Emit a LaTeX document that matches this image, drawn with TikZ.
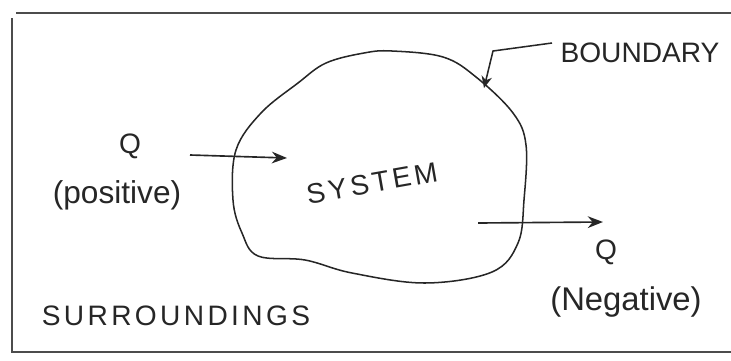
\documentclass[tikz,border=0pt]{standalone}
\usepackage{fontspec}
\setmainfont{Liberation Sans}
\usetikzlibrary{arrows.meta}
\tikzset{
  lbl/.style={font=\fontsize{24}{28}\selectfont, inner sep=0pt, text=black!85},
  wide/.style={font=\fontsize{24}{28}\selectfont\addfontfeature{LetterSpace=12}},
  flow/.style={line width=1.4pt, draw=black!85, -{Stealth[length=13pt,width=10pt]}},
  frame/.style={line width=2.2pt, draw=black!70},
}
\begin{document}
\begin{tikzpicture}[x=0.03cm,y=-0.03cm]
\useasboundingbox (0,0) rectangle (731,360);
% surroundings frame
\draw[frame] (16,13) -- (731,13);
\draw[frame] (12,18) -- (12,352) -- (731,352);
% system boundary
\draw[line width=1.3pt, draw=black!85] plot[smooth cycle, tension=0.6] coordinates {
  (392,51) (443,57) (476,77) (513,113) (526,145) (524,200) (518,243) (492,272)
  (425,283) (352,273) (305,260) (258,256) (242,233) (233,200) (236,150)
  (261,113) (298,83) (326,63) (364,53)};
% labels
\node[lbl, wide, rotate=10] (sys) at (372,183) {SYSTEM};
\node[lbl] (bnd) at (640,53) {BOUNDARY};
\node[lbl] (qin) at (130,146) {Q};
\node[lbl, font=\fontsize{27}{30}\selectfont] (pos) at (117,195) {(positive)};
\node[lbl] (qout) at (606,252) {Q};
\node[lbl, font=\fontsize{28}{32}\selectfont] (neg) at (626,302) {(Negative)};
\node[lbl, wide] (sur) at (176,316) {SURROUNDINGS};
% heat flows
\coordinate (inA) at (190,155);
\coordinate (inB) at (287,158);
\coordinate (outA) at (478,223);
\coordinate (outB) at (603,222);
\draw[flow] (inA) -- (inB);
\draw[flow] (outA) -- (outB);
% pointer to boundary
\coordinate (bA) at (552,43);
\coordinate (bB) at (493,51);
\coordinate (bC) at (484,88);
\draw[line width=1.3pt, draw=black!85, -{Stealth[length=10pt,width=9pt]}] (bA) -- (bB) -- (bC);
\end{tikzpicture}
\end{document}
